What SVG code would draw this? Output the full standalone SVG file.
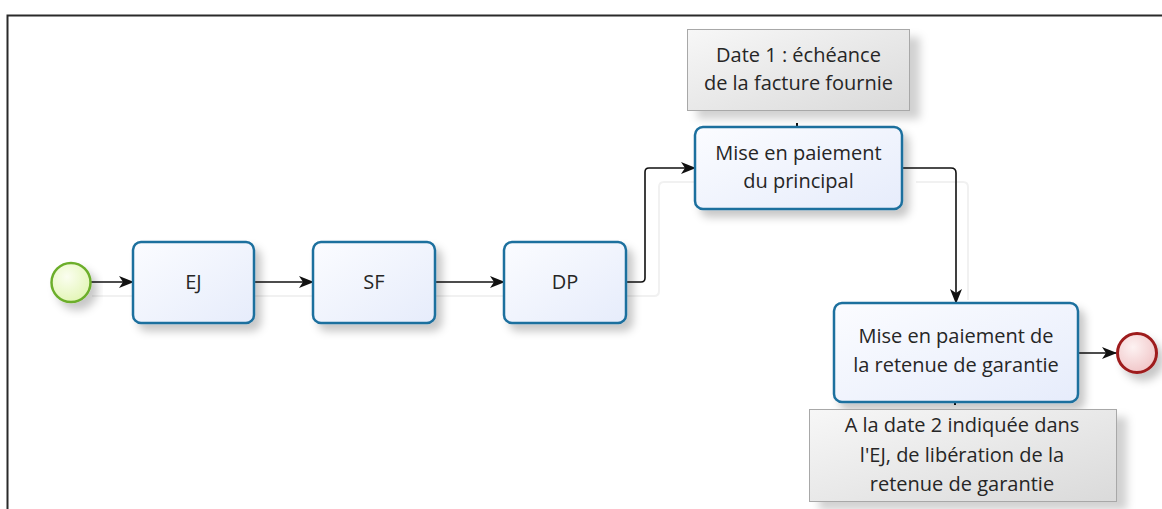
<svg xmlns="http://www.w3.org/2000/svg" width="1162" height="509" viewBox="0 0 1162 509">
  <style>
    .task { stroke: #1c6f9e; stroke-width: 2.5; fill: url(#taskFill); filter: url(#shadow); }
    .note { stroke: #a8a8a8; stroke-width: 1; fill: url(#noteFill); filter: url(#noteShadow); }
    .label { font-family: "Open Sans", "Noto Sans", sans-serif; font-size: 20px; fill: #262626; text-anchor: middle; }
    .flow { fill: none; stroke: #111; stroke-width: 1.6; marker-end: url(#arrow); }
    .trace { fill: none; stroke: #f1f1f1; stroke-width: 2; }
    .assoc { stroke: #111; stroke-width: 2; }
  </style>
  <defs>
    <linearGradient id="taskFill" x1="0" y1="0" x2="1" y2="1">
      <stop offset="0" stop-color="#fbfcff"/>
      <stop offset="1" stop-color="#e6ecfb"/>
    </linearGradient>
    <linearGradient id="noteFill" x1="0" y1="0" x2="1" y2="1">
      <stop offset="0" stop-color="#f7f7f7"/>
      <stop offset="1" stop-color="#dadada"/>
    </linearGradient>
    <radialGradient id="startFill" cx="0.4" cy="0.35" r="0.7">
      <stop offset="0" stop-color="#fbfef0"/>
      <stop offset="1" stop-color="#e2f5b4"/>
    </radialGradient>
    <radialGradient id="endFill" cx="0.4" cy="0.35" r="0.7">
      <stop offset="0" stop-color="#fdf2f2"/>
      <stop offset="1" stop-color="#f0c4c6"/>
    </radialGradient>
    <filter id="shadow" x="-20%" y="-20%" width="150%" height="160%">
      <feDropShadow dx="6" dy="7" stdDeviation="4" flood-color="#000" flood-opacity="0.22"/>
    </filter>
    <filter id="noteShadow" x="-20%" y="-20%" width="150%" height="160%">
      <feDropShadow dx="10" dy="8" stdDeviation="4" flood-color="#000" flood-opacity="0.18"/>
    </filter>
    <marker id="arrow" viewBox="0 0 15 12" refX="14" refY="6" markerWidth="15" markerHeight="12" markerUnits="userSpaceOnUse" orient="auto">
      <path d="M0,0 L15,6 L0,12 L4,6 z" fill="#111"/>
    </marker>
  </defs>

  <rect width="1162" height="509" fill="#ffffff"/>

  <!-- page frame -->
  <path d="M7.5,509 V15.5 H1162" fill="none" stroke="#2a2a2a" stroke-width="2"/>

  <!-- faint connector shadows -->
  <g id="traces">
    <path class="trace" d="M92,296 H640"/>
    <path class="trace" d="M640,296 H654 Q659,296 659,291 V187 Q659,182 664,182 H708"/>
    <path class="trace" d="M916,182 H963 Q968,182 968,187 V300"/>
  </g>

  <!-- sequence flows -->
  <g id="connectors">
    <path class="flow" d="M91,282 H133"/>
    <path class="flow" d="M254,282 H313"/>
    <path class="flow" d="M435,282 H504"/>
    <path class="flow" d="M626,282 H641 Q645,282 645,278 V172 Q645,168 649,168 H695"/>
    <path class="flow" d="M902,168 H951 Q956,168 956,173 V303"/>
    <path class="flow" d="M1078,353 H1116"/>
    <line class="assoc" x1="797" y1="123" x2="797" y2="127"/>
    <line class="assoc" x1="955" y1="401" x2="955" y2="405"/>
  </g>

  <g id="start">
    <circle cx="71" cy="282.5" r="19.5" fill="url(#startFill)" stroke="#6cae2c" stroke-width="2.5" filter="url(#shadow)"/>
  </g>

  <g id="ej">
    <rect class="task" x="133" y="242" width="121" height="81" rx="8"/>
    <text class="label" x="193.5" y="289">EJ</text>
  </g>

  <g id="sf">
    <rect class="task" x="313" y="242" width="122" height="81" rx="8"/>
    <text class="label" x="374" y="289">SF</text>
  </g>

  <g id="dp">
    <rect class="task" x="504" y="242" width="122" height="81" rx="8"/>
    <text class="label" x="565" y="289">DP</text>
  </g>

  <g id="principal">
    <rect class="task" x="695" y="127" width="207" height="82" rx="8"/>
    <text class="label" x="798.5" y="160">Mise en paiement</text>
    <text class="label" x="798.5" y="188">du principal</text>
  </g>

  <g id="note-date1">
    <rect class="note" x="687.5" y="29.5" width="222" height="81"/>
    <text class="label" x="798.5" y="62">Date 1 : échéance</text>
    <text class="label" x="798.5" y="90">de la facture fournie</text>
  </g>

  <g id="retenue">
    <rect class="task" x="834" y="303" width="244" height="99" rx="8"/>
    <text class="label" x="956" y="343">Mise en paiement de</text>
    <text class="label" x="956" y="372">la retenue de garantie</text>
  </g>

  <g id="note-date2">
    <rect class="note" x="809.5" y="409.5" width="307" height="92"/>
    <text class="label" x="962" y="432">A la date 2 indiquée dans</text>
    <text class="label" x="962" y="462">l'EJ, de libération de la</text>
    <text class="label" x="962" y="491">retenue de garantie</text>
  </g>

  <g id="end">
    <circle cx="1137" cy="353" r="19.5" fill="url(#endFill)" stroke="#9e1a1c" stroke-width="3" filter="url(#shadow)"/>
  </g>
</svg>
